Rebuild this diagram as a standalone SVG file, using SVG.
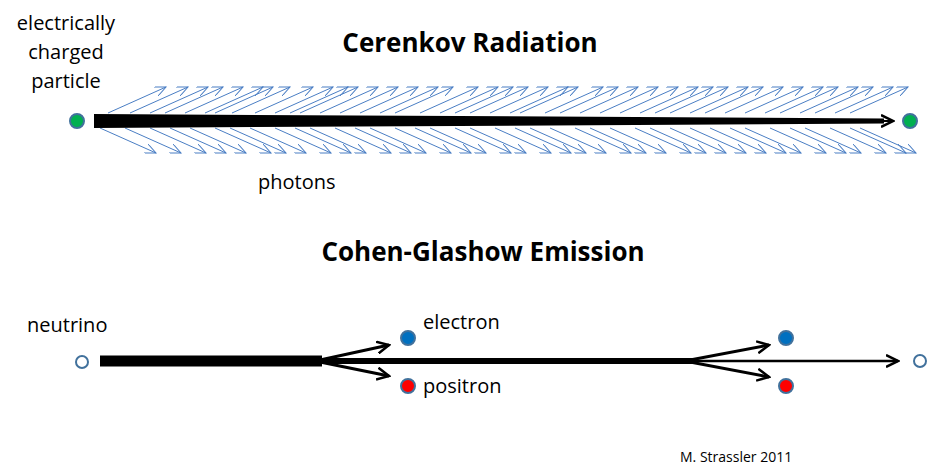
<svg xmlns="http://www.w3.org/2000/svg" width="940" height="474" viewBox="0 0 940 474">
<style>
text{font-family:"Open Sans","Liberation Sans",Arial,sans-serif;fill:#000}
.t{font-size:26px;font-weight:bold}
.l{font-size:20px}
.u,.d{stroke:#4A7EC4;stroke-width:1;fill:none;marker-end:url(#pa)}
.blk{stroke:#000;fill:none;stroke-linecap:butt}
.dot{stroke:#41719C;stroke-width:2}
</style>
<defs>
<marker id="pa" markerWidth="12" markerHeight="10" refX="11" refY="5" orient="auto" markerUnits="userSpaceOnUse"><path d="M0,0 L11,5 L0,10" fill="none" stroke="#4A7EC4" stroke-width="1"/></marker>
<marker id="ba" markerWidth="14" markerHeight="14" refX="12" refY="7" orient="auto" markerUnits="userSpaceOnUse"><path d="M0,1 L12,7 L0,13" fill="none" stroke="#000" stroke-width="2.5"/></marker>
<path id="up" class="u" d="M0,113 l58,-26"/>
<path id="dn" class="d" d="M0,128 l56,25"/>
</defs>
<text class="t" x="470" y="52" text-anchor="middle">Cerenkov Radiation</text>
<text class="t" x="483" y="261" text-anchor="middle">Cohen-Glashow Emission</text>
<g id="label-particle" class="l"><text x="66" y="30" text-anchor="middle">electrically</text><text x="66" y="59" text-anchor="middle">charged</text><text x="66" y="88" text-anchor="middle">particle</text></g>
<text id="label-photons" class="l" x="258" y="189">photons</text>
<text id="label-neutrino" class="l" x="27" y="332">neutrino</text>
<text id="label-electron" class="l" x="423" y="329">electron</text>
<text id="label-positron" class="l" x="423" y="393">positron</text>
<text id="label-credit" x="680" y="462" style="font-size:14px">M. Strassler 2011</text>
<g id="photons">
<use href="#up" x="108"/><use href="#up" x="130"/><use href="#up" x="150"/><use href="#up" x="165"/><use href="#up" x="185"/><use href="#up" x="205"/><use href="#up" x="215"/><use href="#up" x="232"/><use href="#up" x="255"/><use href="#up" x="275"/><use href="#up" x="290"/><use href="#up" x="300"/><use href="#up" x="320"/><use href="#up" x="340"/><use href="#up" x="360"/><use href="#up" x="380"/><use href="#up" x="395"/><use href="#up" x="420"/><use href="#up" x="440"/><use href="#up" x="455"/><use href="#up" x="470"/><use href="#up" x="490"/><use href="#up" x="510"/><use href="#up" x="520"/><use href="#up" x="545"/><use href="#up" x="560"/><use href="#up" x="580"/><use href="#up" x="600"/><use href="#up" x="620"/><use href="#up" x="640"/><use href="#up" x="655"/><use href="#up" x="670"/><use href="#up" x="690"/><use href="#up" x="705"/><use href="#up" x="725"/><use href="#up" x="745"/><use href="#up" x="765"/><use href="#up" x="780"/><use href="#up" x="800"/><use href="#up" x="815"/><use href="#up" x="835"/><use href="#up" x="850"/>
<use href="#dn" x="100"/><use href="#dn" x="125"/><use href="#dn" x="150"/><use href="#dn" x="170"/><use href="#dn" x="190"/><use href="#dn" x="215"/><use href="#dn" x="230"/><use href="#dn" x="250"/><use href="#dn" x="275"/><use href="#dn" x="295"/><use href="#dn" x="310"/><use href="#dn" x="335"/><use href="#dn" x="355"/><use href="#dn" x="370"/><use href="#dn" x="395"/><use href="#dn" x="415"/><use href="#dn" x="430"/><use href="#dn" x="455"/><use href="#dn" x="470"/><use href="#dn" x="495"/><use href="#dn" x="515"/><use href="#dn" x="530"/><use href="#dn" x="550"/><use href="#dn" x="575"/><use href="#dn" x="590"/><use href="#dn" x="610"/><use href="#dn" x="635"/><use href="#dn" x="650"/><use href="#dn" x="670"/><use href="#dn" x="690"/><use href="#dn" x="710"/><use href="#dn" x="730"/><use href="#dn" x="745"/><use href="#dn" x="770"/><use href="#dn" x="790"/><use href="#dn" x="805"/><use href="#dn" x="830"/><use href="#dn" x="850"/><use href="#dn" x="860"/>
</g>
<g id="connectors">
<polygon points="94,114 884,118.5 884,123.5 94,128" fill="#000"/>
<path class="blk" d="M880,121 L893,121" stroke-width="2" marker-end="url(#ba)"/>
<path class="blk" d="M100,361 H322" stroke-width="11"/>
<path class="blk" d="M320,361 H692" stroke-width="6"/>
<path class="blk" d="M690,361 H898" stroke-width="2.5" marker-end="url(#ba)"/>
<path class="blk" d="M320,360 L389,345" stroke-width="3" marker-end="url(#ba)"/>
<path class="blk" d="M320,362 L389,376" stroke-width="3" marker-end="url(#ba)"/>
<path class="blk" d="M690,360 L769,345" stroke-width="3" marker-end="url(#ba)"/>
<path class="blk" d="M690,362 L769,377" stroke-width="3" marker-end="url(#ba)"/>
</g>
<g id="particle-start"><circle class="dot" cx="77" cy="121" r="7" fill="#00B050"/></g>
<g id="particle-end"><circle class="dot" cx="910" cy="121" r="7" fill="#00B050"/></g>
<g id="neutrino-start"><circle class="dot" cx="82" cy="362" r="6" fill="#fff"/></g>
<g id="neutrino-end"><circle class="dot" cx="920" cy="361" r="6" fill="#fff"/></g>
<g id="electron1"><circle class="dot" cx="408" cy="338" r="7" fill="#0070C0"/></g>
<g id="positron1"><circle class="dot" cx="408" cy="386" r="7" fill="#FF0000"/></g>
<g id="electron2"><circle class="dot" cx="786" cy="338" r="7" fill="#0070C0"/></g>
<g id="positron2"><circle class="dot" cx="786" cy="386" r="7" fill="#FF0000"/></g>
</svg>
